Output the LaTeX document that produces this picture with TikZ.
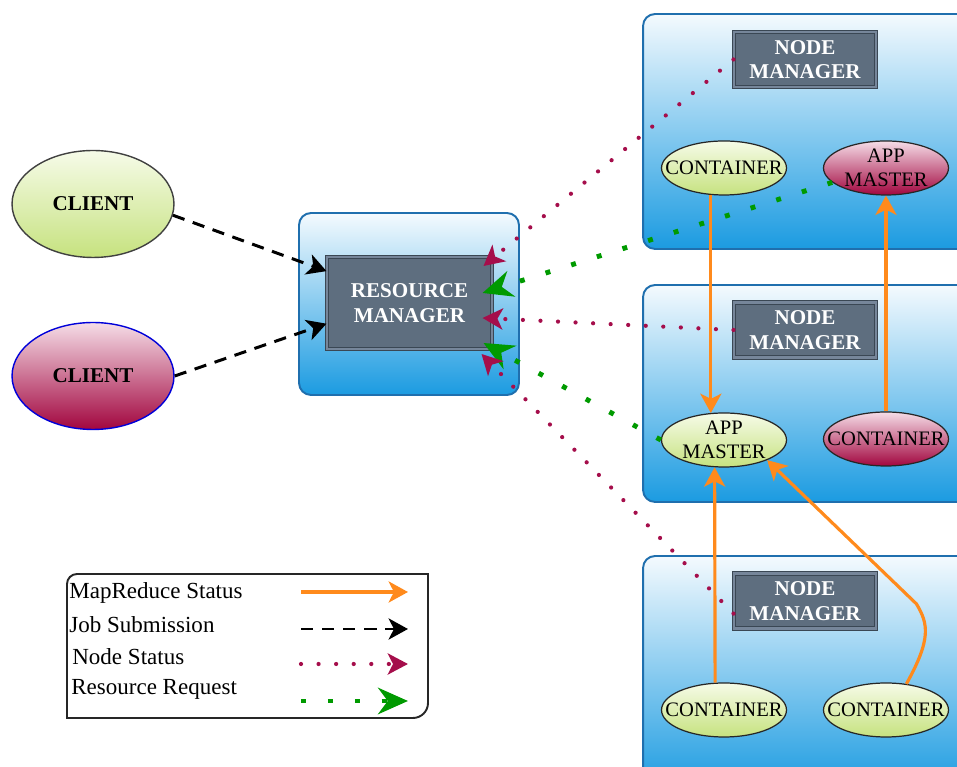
\documentclass[tikz,border=0pt]{standalone}
\usepackage{fontspec}
\setmainfont{Liberation Serif}
\usetikzlibrary{shapes.geometric}
\usetikzlibrary{arrows.meta}
\usetikzlibrary{calc}
\usetikzlibrary{positioning}

\definecolor{boxline}{HTML}{1F6FAE}
\definecolor{boxtop}{HTML}{F4FAFE}
\definecolor{boxbot}{HTML}{1B9BE1}
\definecolor{slate}{HTML}{5E6E7F}
\definecolor{slateline}{HTML}{3A4754}
\definecolor{slategap}{HTML}{76869A}
\definecolor{limetop}{HTML}{F6FBE8}
\definecolor{limebot}{HTML}{C6E27F}
\definecolor{rosetop}{HTML}{F5DDE7}
\definecolor{rosebot}{HTML}{A2063F}
\definecolor{mrorange}{HTML}{FF8A1C}
\definecolor{nsred}{HTML}{A50E4B}
\definecolor{rrgreen}{HTML}{009A00}

\begin{document}
\begin{tikzpicture}
    [
    x=0.02cm, y=0.02cm,
    host/.style={rectangle,rounded corners=0.24cm,draw=boxline,line width=1.1pt,top color=boxtop,bottom color=boxbot},
    mgr/.style={rectangle,draw=slateline,line width=0.6pt,double=slategap,double distance=1.2pt,fill=slate,text=white,align=center,font=\fontsize{12}{14}\selectfont\bfseries},
    client/.style={ellipse,minimum width=3.24cm,minimum height=2.14cm,line width=0.8pt,font=\fontsize{12}{14}\selectfont\bfseries},
    clientgreen/.style={client,draw=black!75,top color=limetop,bottom color=limebot},
    clientrose/.style={client,draw=blue!85!black,top color=rosetop,bottom color=rosebot},
    cont/.style={ellipse,minimum width=2.5cm,minimum height=1.08cm,draw=black!85,line width=0.7pt},
    contgreen/.style={cont,top color=limetop,bottom color=limebot},
    controse/.style={cont,top color=rosetop,bottom color=rosebot},
    tag/.style={inner sep=0pt,align=center,font=\fontsize{11.7}{14}\selectfont},
    legtext/.style={anchor=west,inner sep=0pt,font=\fontsize{13.1}{15}\selectfont},
    mrstatus/.style={draw=mrorange,line width=1.8pt,-{Stealth[length=11pt,width=12pt,inset=3pt]}},
    jobsub/.style={draw=black,line width=1.7pt,dash pattern=on 7pt off 5pt,-{Stealth[length=11pt,width=12pt,inset=3pt]}},
    nodestat/.style={draw=nsred,line width=2.4pt,line cap=round,dash pattern=on 0pt off 10pt,-{Stealth[length=11.5pt,width=12pt,inset=3pt]}},
    resreq/.style={draw=rrgreen,line width=2.8pt,dash pattern=on 2.8pt off 12.5pt,-{Stealth[length=17pt,width=15pt,inset=5.5pt]}},
    ]
    \useasboundingbox (0,0) rectangle (957,767);
    \clip (0,0) rectangle (957,767);

    \node (cl1) at (93,563) [clientgreen] {CLIENT};
    \node (cl2) at (93,391) [clientrose] {CLIENT};

    \node (rmhost) at (409,463) [host,minimum width=4.4cm,minimum height=3.64cm] {};
    \node (rm) at (409.5,464) [mgr,minimum width=3.3cm,minimum height=1.84cm] {RESOURCE\\MANAGER};

    \node (h1) at (823,635.5) [host,minimum width=7.2cm,minimum height=4.7cm] {};
    \node (h2) at (823,373.5) [host,minimum width=7.2cm,minimum height=4.34cm] {};
    \node (h3) at (823,93.5) [host,minimum width=7.2cm,minimum height=4.7cm] {};

    \node (nm1) at (805,707.5) [mgr,minimum width=2.84cm,minimum height=1.1cm] {NODE\\MANAGER};
    \node (nm2) at (805,437) [mgr,minimum width=2.84cm,minimum height=1.1cm] {NODE\\MANAGER};
    \node (nm3) at (805,166) [mgr,minimum width=2.84cm,minimum height=1.1cm] {NODE\\MANAGER};

    \node (ct1) at (724,599) [contgreen,label={[tag]center:CONTAINER}] {};
    \node (am1) at (886,599) [controse,label={[tag]center:{APP\\MASTER}}] {};
    \node (am2) at (724,327) [contgreen,label={[tag]center:{APP\\MASTER}}] {};
    \node (ct2) at (886,328) [controse,label={[tag]center:CONTAINER}] {};
    \node (ct3) at (724,57) [contgreen,label={[tag]center:CONTAINER}] {};
    \node (ct4) at (886,57) [contgreen,label={[tag]center:CONTAINER}] {};

    \draw [jobsub] (cl1.-8) to (rm.159);
    \draw [jobsub] (cl2.east) to (rm.194);

    \draw [nodestat] (nm1.west) to ($(rm.east)+(-9,37)$);
    \draw [resreq] (am1.195) to ($(rm.east)+(-10,10)$);
    \draw [nodestat] (nm2.west) to ($(rm.east)+(-10,-15)$);
    \draw [resreq] (am2.west) to ($(rm.east)+(-9,-40)$);
    \draw [nodestat] (nm3.190) to ($(rm.east)+(-11,-51)$);

    \draw [mrstatus] (ct1.244) to (am2.116);
    \draw [mrstatus] (ct2.north) to (am1.south);
    \draw [mrstatus] (ct3.108) to (am2.251);
    \draw [mrstatus] (ct4.52) .. controls +(25,45) and +(12,-20) .. ++(10,80) -- (am2.-25);

    \draw [line width=1.1pt,black!85] (67,49) -- (67,183) arc[start angle=180,end angle=90,radius=0.2cm]
      -- (428,193) -- (428,64) arc[start angle=0,end angle=-90,radius=0.3cm] -- cycle;
    \node (lg1) at (69,174) [legtext] {MapReduce Status};
    \node (lg2) at (69,142) [legtext] {Job Submission};
    \node (lg3) at (72,110) [legtext] {Node Status};
    \node (lg4) at (71,78) [legtext] {Resource Request};
    \coordinate (ls1) at (301,175);
    \node (le1) [coordinate,right=2.14cm of ls1] {};
    \coordinate (ls2) at (301,138);
    \node (le2) [coordinate,right=2.14cm of ls2] {};
    \coordinate (ls3) at (301,103);
    \node (le3) [coordinate,right=2.14cm of ls3] {};
    \coordinate (ls4) at (301,66);
    \node (le4) [coordinate,right=2.14cm of ls4] {};
    \draw [mrstatus] (ls1) to (le1);
    \draw [jobsub] (ls2) to (le2);
    \draw [nodestat] (ls3) to (le3);
    \draw [resreq] (ls4) to (le4);
  \end{tikzpicture}
\end{document}
